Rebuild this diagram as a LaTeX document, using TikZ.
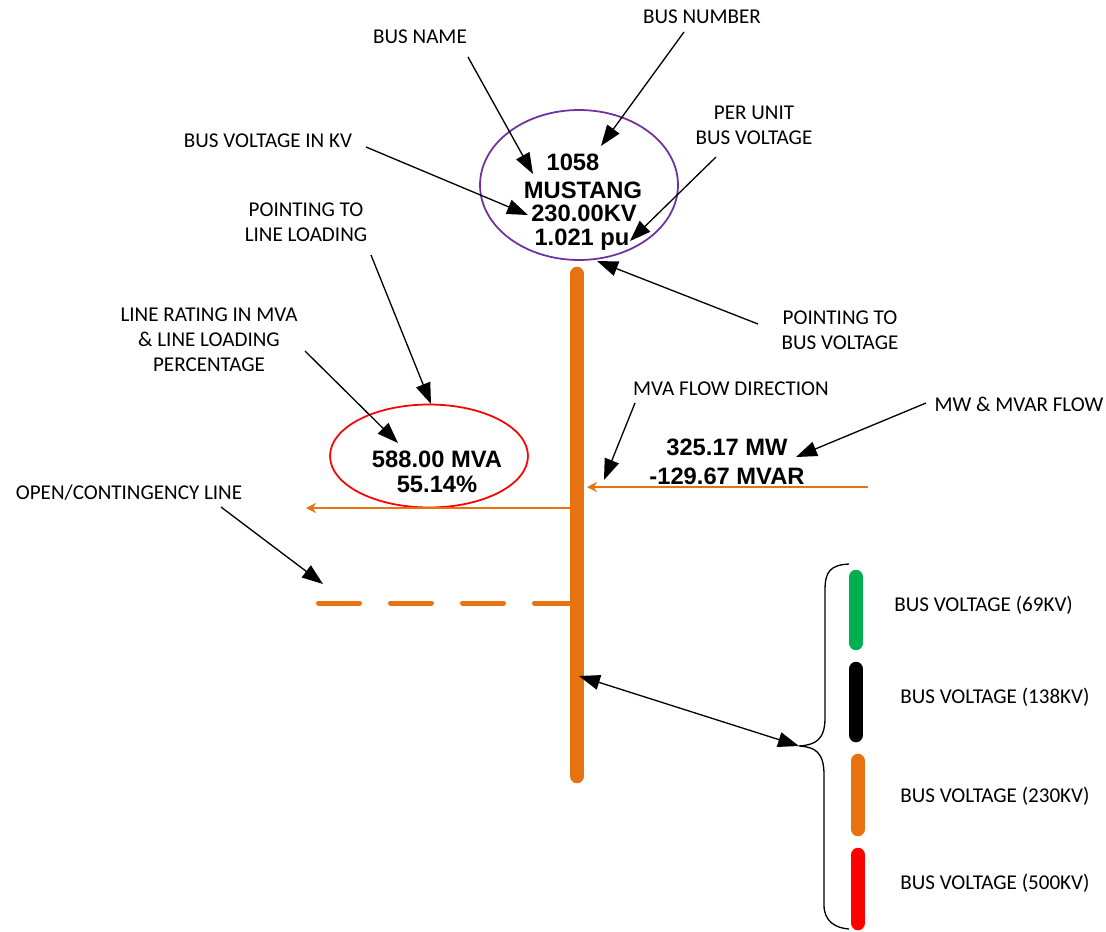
\documentclass[tikz,border=0pt]{standalone}
\usepackage{fontspec}
\setmainfont{Carlito}
\newfontfamily\valfont{Liberation Sans}
\usetikzlibrary{arrows.meta,shapes.geometric}
\definecolor{busorange}{HTML}{E8720F}
\definecolor{buspurple}{HTML}{7030A0}
\definecolor{busgreen}{HTML}{00B050}
\tikzset{
  lbl/.style={font=\fontsize{12}{14.2}\selectfont, align=center, inner sep=0pt},
  val/.style={font=\valfont\bfseries\fontsize{13.5}{14.2}\selectfont, align=center, inner sep=0pt},
  pointer/.style={line width=0.75pt, -{Triangle[length=0.42cm,width=0.3cm]}},
  twoway/.style={line width=0.75pt, {Triangle[length=0.42cm,width=0.3cm]}-{Triangle[length=0.42cm,width=0.3cm]}},
  flow/.style={busorange, line width=1pt, -{Stealth[length=0.2cm,width=0.2cm]}},
  busbar/.style={line width=0.29cm, line cap=round},
  ring/.style={draw, ellipse, line width=1pt, inner sep=0pt},
}
\begin{document}
\begin{tikzpicture}[x=0.02cm,y=-0.02cm]
  \useasboundingbox (0,0) rectangle (1106,931);
  % the bus
  \coordinate (bustop) at (577,274);
  \coordinate (busbot) at (577,776);
  \draw[busbar,busorange] (bustop) -- (busbot);
  % bus data
  \node[ring,draw=buspurple,minimum width=3.96cm,minimum height=3cm] (busring) at (579,185) {};
  \node[val] (busnum) at (573,162) {1058};
  \node[val] (busname) at (583,190) {MUSTANG};
  \node[val] (buskv) at (584,213) {230.00KV};
  \node[val] (buspu) at (582,240) {1.021 pu};
  % line data
  \node[ring,draw=red,minimum width=3.96cm,minimum height=2.06cm] (linering) at (429,456) {};
  \node[val] (linemva) at (437,472) {588.00 MVA\\55.14\%};
  \node[val] (flowval) at (727,462) {325.17 MW\\[2pt]-129.67 MVAR};
  % flows
  \coordinate (inflow) at (868,487);
  \coordinate (inflowtip) at (587,487);
  \draw[flow] (inflow) -- (inflowtip);
  \coordinate (outflow) at (570,508);
  \coordinate (outflowtip) at (306,508);
  \draw[flow] (outflow) -- (outflowtip);
  \coordinate (openend) at (318.5,603);
  \coordinate (opentap) at (570,603);
  \draw[busorange,line width=0.1cm,line cap=round,dash pattern=on 0.82cm off 0.62cm] (openend) -- (opentap);
  % labels
  \node[lbl] (lblnum) at (702,17) {BUS NUMBER};
  \node[lbl] (lblname) at (420,37) {BUS NAME};
  \node[lbl] (lblpu) at (754,125) {PER UNIT\\BUS VOLTAGE};
  \node[lbl] (lblkv) at (268,141) {BUS VOLTAGE IN KV};
  \node[lbl] (lblptl) at (306,222) {POINTING TO\\LINE LOADING};
  \node[lbl] (lblptv) at (840,330) {POINTING TO\\BUS VOLTAGE};
  \node[lbl] (lblrating) at (209,340) {LINE RATING IN MVA\\\& LINE LOADING\\PERCENTAGE};
  \node[lbl] (lblflow) at (731,389) {MVA FLOW DIRECTION};
  \node[lbl] (lblmw) at (1019,404) {MW \& MVAR FLOW};
  \node[lbl] (lblopen) at (129,493) {OPEN/CONTINGENCY LINE};
  % pointers
  \foreach \nm/\ax/\ay/\bx/\by in {name/468/57/533/174, num/684/32/601/146,
      pu/716/157/630/241, kv/366/147/528/215, ptv/758/324/597/261,
      ptl/371/255/431/404, rating/305/351/398/443, open/221/507/323/584,
      flow/635/403/604/480, mw/926/403/796/457}{
    \coordinate (\nm-a) at (\ax,\ay);
    \coordinate (\nm-b) at (\bx,\by);
    \draw[pointer] (\nm-a) -- (\nm-b);
  }
  % legend
  \coordinate (bracetip) at (799,746);
  \draw[line width=0.75pt] (849,564) .. controls (830,565) and (825,572) .. (825,590)
    -- (825,718) .. controls (825,740) and (815,745) .. (bracetip)
    .. controls (815,747) and (824,752) .. (824,775)
    -- (824,905) .. controls (824,921) and (835,928) .. (849,929);
  \coordinate (bustap) at (579,676);
  \draw[twoway] (bustap) -- (bracetip);
  \foreach \col/\xx/\ya/\yb/\lx/\ty/\kv in {busgreen/856/577/643/894/605/69,
      black/856/669/735/900/697/138, busorange/858/761/829/900/796/230,
      red/858/855/923/900/883/500}{
    \draw[busbar,\col] (\xx,\ya) -- (\xx,\yb);
    \node[lbl,anchor=west] (leg\kv) at (\lx,\ty) {BUS VOLTAGE (\kv KV)};
  }
\end{tikzpicture}
\end{document}
